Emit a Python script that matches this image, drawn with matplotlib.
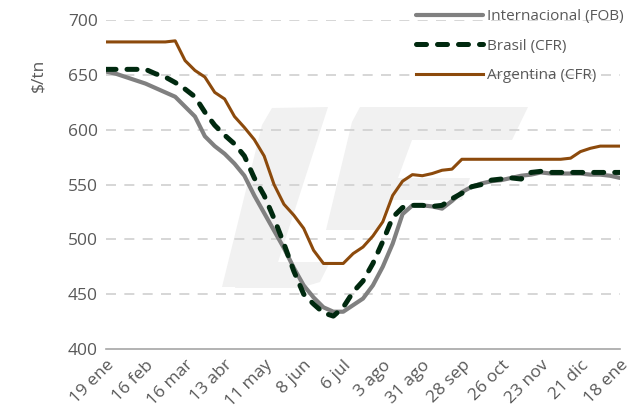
import matplotlib
matplotlib.use("Agg")
from matplotlib import pyplot as plt
from matplotlib.patches import Polygon

# weekly prices, 19 ene -> 18 ene (53 weeks)
weeks = list(range(53))
tick_labels = ["19 ene", "16 feb", "16 mar", "13 abr", "11 may", "8 jun", "6 jul",
               "3 ago", "31 ago", "28 sep", "26 oct", "23 nov", "21 dic", "18 ene"]

internacional = [653, 651, 648, 645, 642, 638, 634, 630, 621, 612,
                 594, 585, 578, 569, 558, 540, 524, 508, 492, 474,
                 458, 447, 438, 434, 434, 440, 446, 458, 475, 496,
                 523, 531, 531, 530, 528, 535, 543, 548, 551, 553,
                 554, 556, 558, 559, 561, 560, 560, 560, 560, 559,
                 559, 558, 556]

brasil = [655, 655, 655, 655, 655, 651, 648, 643, 637, 630,
          616, 604, 595, 587, 576, 556, 540, 519, 496, 471,
          450, 441, 433, 430, 438, 452, 462, 478, 498, 520,
          529, 531, 531, 530, 531, 537, 542, 548, 550, 554,
          555, 556, 555, 561, 562, 561, 561, 561, 561, 561,
          561, 561, 561]

argentina = [680, 680, 680, 680, 680, 680, 680, 681, 663, 654,
             648, 634, 628, 612, 602, 591, 576, 550, 532, 522,
             510, 490, 478, 478, 478, 487, 493, 503, 516, 540,
             553, 559, 558, 560, 563, 564, 573, 573, 573, 573,
             573, 573, 573, 573, 573, 573, 573, 574, 580, 583,
             585, 585, 585]

W, H = 636, 416
fig = plt.figure(figsize=(W / 100, H / 100), dpi=100)
plt.rcParams["font.family"] = ["Open Sans", "DejaVu Sans"]
ax = fig.add_axes([106 / W, 1 - 349 / H, (620 - 106) / W, (349 - 20) / H])
ax.patch.set_alpha(0)

# faint logo watermark behind the lines (figure pixel coords)
def px(pts):
    return [(x / W, 1 - y / H) for x, y in pts]

logo = [
    [(272, 108), (328, 107), (270, 287), (222, 287), (262, 125)],
    [(360, 107), (528, 107), (512, 140), (412, 140), (398, 178), (470, 178),
     (462, 200), (390, 200), (376, 230), (326, 230), (352, 122)],
    [(240, 262), (330, 262), (320, 282), (300, 288), (235, 288)],
]
for pts in logo:
    ax.add_patch(Polygon(px(pts), closed=True, facecolor="#f1f1f1", edgecolor="none",
                         transform=fig.transFigure, clip_on=False, zorder=0))

for v in [450, 500, 550, 600, 650, 700]:
    ax.axhline(v, color="#d0d0d0", lw=1.2, ls=(0, (6, 5)), zorder=1)

ax.plot(weeks, internacional, color="#808080", lw=3, solid_capstyle="round",
        solid_joinstyle="round", label="Internacional (FOB)", zorder=3)
ax.plot(weeks, brasil, color="#00290f", lw=3.6, dashes=(2.0, 2.2),
        dash_capstyle="round", dash_joinstyle="round", label="Brasil (CFR)", zorder=4)
ax.plot(weeks, argentina, color="#8c4a0c", lw=2.2, solid_joinstyle="round",
        label="Argentina (CFR)", zorder=5)

ax.set_xlim(0, 52)
ax.set_ylim(400, 700)
ax.set_yticks([400, 450, 500, 550, 600, 650, 700])
ax.set_xticks(range(0, 53, 4))
ax.set_xticklabels(tick_labels, rotation=45, ha="right", rotation_mode="anchor")
ax.tick_params(length=0, labelsize=12.5, colors="#595959", pad=6)

for s in ["top", "right", "left"]:
    ax.spines[s].set_visible(False)
ax.spines["bottom"].set_color("#a6a6a6")
ax.spines["bottom"].set_linewidth(1.2)

fig.text(38 / W, 1 - 75 / H, "$/tn", rotation=90, ha="center", va="center",
         fontsize=12.5, color="#595959")

fig.legend(loc="upper left", bbox_to_anchor=(410 / W, 1 - 3 / H), frameon=False,
           fontsize=11, labelcolor="#595959", handlelength=4.4, handletextpad=0.25,
           labelspacing=0.95, borderaxespad=0)

fig.savefig("out.png", dpi=100)
